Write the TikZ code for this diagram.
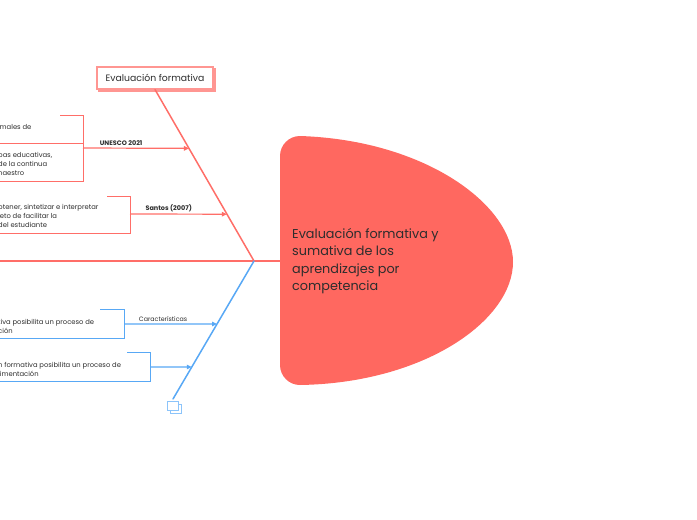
\documentclass[tikz,border=0pt]{standalone}
\usepackage{fontspec}
\setmainfont{Poppins}
\usetikzlibrary{arrows.meta,calc,positioning,shadows}
\definecolor{FishRed}{RGB}{255,110,104}
\definecolor{HeadRed}{RGB}{255,104,96}
\definecolor{BoxRed}{RGB}{255,150,146}
\definecolor{FishBlue}{RGB}{88,168,245}
\definecolor{IconBlue}{RGB}{140,196,250}
\definecolor{TextGray}{RGB}{45,45,45}
\tikzset{
  bone/.style={line width=1.5pt,line cap=round},
  rib/.style={-{Triangle[length=5pt,width=4.5pt]},line width=1.2pt},
  brk/.style={line width=0.95pt},
  lbl/.style={font=\fontsize{6.3}{8}\selectfont,text=TextGray,inner sep=1.5pt},
  boldlbl/.style={lbl,font=\fontsize{6.5}{8}\selectfont\bfseries},
  frag/.style={font=\fontsize{6.8}{9}\selectfont,text=TextGray,align=left,
               anchor=west,inner sep=0pt},
  topic/.style={font=\fontsize{12.8}{17.5}\selectfont,text=TextGray,align=left,
                anchor=west,inner sep=0pt},
  mainbox/.style={draw=BoxRed,line width=1.1pt,fill=white,minimum width=116pt,
                  minimum height=22pt,inner sep=0pt,font=\fontsize{9.3}{10}\selectfont,
                  text=TextGray,
                  copy shadow={shadow xshift=2pt,shadow yshift=-2pt}},
}
\begin{document}
\begin{tikzpicture}[x=1pt,y=-1pt]
  \useasboundingbox (0,0) rectangle (697,520);
  \clip (0,0) rectangle (697,520);
  % head of the fish
  \fill[HeadRed] (300,136) .. controls (425,140) and (513,205) .. (513,262)
                 .. controls (513,320) and (425,383) .. (300,385)
                 arc[start angle=90,end angle=180,radius=20]
                 -- (280,156) arc[start angle=180,end angle=270,radius=20] -- cycle;
  \node[topic] (topic) at (292,261)
    {Evaluación formativa y\\sumativa de los\\aprendizajes por\\competencia};
  \coordinate (head) at (280,261);
  \coordinate (spineL) at (-5,261);
  \coordinate (joint) at (254,261);
  \draw[bone,FishRed] (spineL) -- (head);
  % upper bone
  \node[mainbox] (evalf) at (155,78) {Evaluación formativa};
  \draw[bone,FishRed] (evalf.south) -- (joint);
  \coordinate (onU) at ($(evalf.south)!0.343!(joint)$);
  \coordinate (onS) at ($(evalf.south)!0.727!(joint)$);
  % lower bone
  \coordinate (blueEnd) at (173,399);
  \draw[bone,FishBlue] (joint) -- (blueEnd);
  \coordinate (onC) at ($(joint)!0.4565!(blueEnd)$);
  \coordinate (onR) at ($(joint)!0.768!(blueEnd)$);
  \draw[IconBlue,line width=1pt,fill=white] (170,404) rectangle (181,413);
  \draw[IconBlue,line width=1pt,fill=white] (167,401) rectangle (178,410);

  % UNESCO 2021
  \node[frag] (u1) at (-3,127) {rmales de};
  \node[frag] (u2) at (-2,164) {pas educativas,\\de la continua\\naestro};
  \draw[brk,FishRed] (60,115) -- (83,115) -- (83,181) -- (-5,181);
  \draw[brk,FishRed] (-5,143) -- (83,143);
  \coordinate (uStart) at (83,148);
  \draw[rib,FishRed] (uStart) -- node[boldlbl,above,pos=0.36]{UNESCO 2021} (onU);

  % Santos (2007)
  \node[frag] (s1) at (-2,216) {btener, sintetizar e interpretar\\jeto de facilitar la\\del estudiante};
  \draw[brk,FishRed] (107,196) -- (130,196) -- (130,233) -- (-5,233);
  \coordinate (sStart) at (130,214);
  \draw[rib,FishRed] (sStart) -- node[boldlbl,above,pos=0.4]{Santos (2007)} (onS);

  % Caracteristicas
  \node[frag] (c1) at (-2,326.5) {tiva posibilita un proceso de\\ción};
  \draw[brk,FishBlue] (100,309) -- (124,309) -- (124,338) -- (-5,338);
  \coordinate (cStart) at (124,324);
  \draw[rib,FishBlue] (cStart) -- node[lbl,above,pos=0.42]{Características} (onC);

  % retroalimentacion
  \node[frag] (r1) at (-2,369.5) {n formativa posibilita un proceso de\\limentación};
  \draw[brk,FishBlue] (127,352) -- (150,352) -- (150,381) -- (-5,381);
  \coordinate (rStart) at (150,367);
  \draw[rib,FishBlue] (rStart) -- (onR);
\end{tikzpicture}
\end{document}
